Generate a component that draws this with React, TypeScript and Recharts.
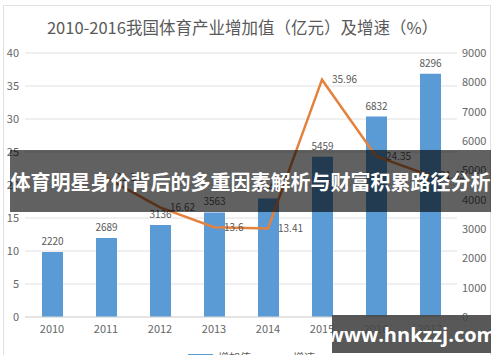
import React from 'react';
import { ComposedChart, Bar, Line, XAxis, YAxis, CartesianGrid, LabelList } from 'recharts';

const years = ['2010', '2011', '2012', '2013', '2014', '2015', '2016', '2017'];
const addedValue = [2220, 2689, 3136, 3563, 4041, 5459, 6832, 8296];
const growthRate: (number | null)[] = [null, 21.13, 16.62, 13.6, 13.41, 35.96, 24.35, 21.43];
const leftTicks = [0, 5, 10, 15, 20, 25, 30, 35, 40];
const rightTicks = [0, 1000, 2000, 3000, 4000, 5000, 6000, 7000, 8000, 9000];

const titleText = '2010-2016我国体育产业增加值（亿元）及增速（%）';
const bannerText = '体育明星身价背后的多重因素解析与财富积累路径分析';
const watermarkText = 'www.hnkzzj.com';
const legendNames = ['增加值', '增速'];

const data = years.map((y, i) => ({ year: y, value: addedValue[i], growth: growthRate[i] }));

const FONT = '"Noto Sans CJK SC", "Noto Sans", sans-serif';
const BLUE = '#5B9BD5';
const ORANGE = '#E3823E';
const TEXT = '#595959';

export default function App() {
  return (
    <div style={{ position: 'absolute', left: 0, top: 0, width: 500, height: 362, overflow: 'hidden', background: '#fff', fontFamily: FONT }}>
      <div style={{ position: 'absolute', left: 3, top: 5, width: 488, height: 400, border: '1px solid #e0e0e0', boxSizing: 'border-box' }} />
      <div style={{ position: 'absolute', left: 0, width: 485, top: 15, textAlign: 'center', fontSize: 16.5, color: TEXT, lineHeight: '24px' }}>{titleText}</div>
      <div style={{ position: 'absolute', left: 0, top: 0 }}>
        <ComposedChart width={500} height={362} data={data} margin={{ top: 53, right: 8, bottom: 15, left: 0 }} style={{ fontFamily: FONT }}>
          <CartesianGrid yAxisId="left" vertical={false} stroke="#e0e0e0" />
          <XAxis dataKey="year" axisLine={{ stroke: '#d9d9d9' }} tickLine={false} tickSize={0} tickMargin={8} height={30} tick={{ fill: '#666', fontSize: 11 }} interval={0} />
          <YAxis yAxisId="left" orientation="left" width={25} domain={[0, 40]} ticks={leftTicks} axisLine={false} tickLine={false} tickSize={0} tickMargin={6} tick={{ fill: '#666', fontSize: 11 }} interval={0} />
          <YAxis yAxisId="right" orientation="right" width={35} domain={[0, 9000]} ticks={rightTicks} axisLine={false} tickLine={false} tickSize={0} tickMargin={5} tick={{ fill: '#666', fontSize: 11 }} interval={0} />
          <Bar yAxisId="right" dataKey="value" fill={BLUE} barSize={21} isAnimationActive={false}>
            <LabelList dataKey="value" position="top" offset={7} fill={TEXT} fontSize={10} />
          </Bar>
          <Line yAxisId="left" dataKey="growth" type="linear" stroke={ORANGE} strokeWidth={2.5} dot={false} activeDot={false} isAnimationActive={false}>
            <LabelList dataKey="growth" position="right" offset={10} fill={TEXT} fontSize={10} />
          </Line>
        </ComposedChart>
      </div>
      <div style={{ position: 'absolute', left: 188, top: 350, display: 'flex', alignItems: 'center', fontSize: 11, color: TEXT, lineHeight: '14px' }}>
        <span style={{ display: 'inline-block', width: 25, height: 7, background: BLUE, marginRight: 5 }} />
        <span style={{ marginRight: 12 }}>{legendNames[0]}</span>
        <span style={{ display: 'inline-block', width: 25, height: 2.5, background: ORANGE, marginRight: 5 }} />
        <span>{legendNames[1]}</span>
      </div>
      <div style={{ position: 'absolute', left: 0, top: 355, width: 500, height: 10, background: '#fff' }} />
      <div style={{ position: 'absolute', left: 10, top: 150, width: 481, height: 62, background: 'rgba(0,0,0,0.62)', color: '#fff', fontWeight: 700, fontSize: 20, display: 'flex', alignItems: 'center', justifyContent: 'center', whiteSpace: 'nowrap' }}>{bannerText}</div>
      <div style={{ position: 'absolute', left: 332, top: 315, width: 159, height: 38, background: 'rgba(70,70,70,0.9)', color: '#fff', fontWeight: 700, fontSize: 20, display: 'flex', alignItems: 'center', justifyContent: 'center', fontFamily: '"Open Sans", "Noto Sans", sans-serif' }}>{watermarkText}</div>
    </div>
  );
}
